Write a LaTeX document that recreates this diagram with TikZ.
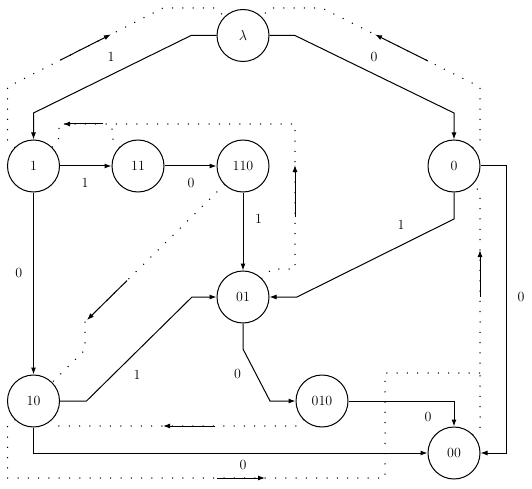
\documentclass[tikz,border=0pt]{standalone}
\usetikzlibrary{arrows.meta}
\begin{document}
\begin{tikzpicture}[x=1pt,y=-1pt,
  state/.style={circle,draw,line width=1pt,minimum size=52pt,inner sep=0pt,font=\fontsize{14}{16}\selectfont},
  edge/.style={line width=1pt,-{Latex[length=7pt,width=5pt]}},
  lbl/.style={font=\fontsize{14}{16}\selectfont,inner sep=0pt},
  link/.style={line width=1.5pt,line cap=round,dash pattern=on 0pt off 10.3pt},
  linkarrow/.style={line width=1pt,-{Latex[length=7pt,width=5pt]}}]
\useasboundingbox (0,0) rectangle (532,489);

% states
\node[state] (lam) at (243,35.5) {$\lambda$};
\node[state] (n1) at (33.5,166) {1};
\node[state] (n11) at (138,166) {11};
\node[state] (n110) at (243,166) {110};
\node[state] (n0) at (454,166) {0};
\node[state] (n01) at (243,297) {01};
\node[state] (n10) at (33.5,401) {10};
\node[state] (n010) at (322,401) {010};
\node[state] (n00) at (454,453) {00};

% transitions
\draw[edge] (lam.west) -- (191,35.5) -- (33.5,113) -- (n1.north);
\draw[edge] (lam.east) -- (295,35.5) -- (454,113) -- (n0.north);
\draw[edge] (n1) -- (n11);
\draw[edge] (n11) -- (n110);
\draw[edge] (n110) -- (n01);
\draw[edge] (n0.south) -- (454,219) -- (297,297) -- (n01.east);
\draw[edge] (n0.east) -- (506,166) -- (506,453) -- (n00.east);
\draw[edge] (n1) -- (n10);
\draw[edge] (n10.east) -- (86.5,401) -- (192,297) -- (n01.west);
\draw[edge] (n01.south) -- (243,349) -- (270,401) -- (n010.west);
\draw[edge] (n010.east) -- (454,401) -- (n00.north);
\draw[edge] (n10.south) -- (33.5,453) -- (n00.west);

% transition labels
\node[lbl] (t1) at (111,57) {1};
\node[lbl] (t2) at (374,57) {0};
\node[lbl] (t3) at (85,183) {1};
\node[lbl] (t4) at (191,183) {0};
\node[lbl] (t5) at (258.6,219) {1};
\node[lbl] (t6) at (401,225) {1};
\node[lbl] (t7) at (521,297) {0};
\node[lbl] (t8) at (18.7,273) {0};
\node[lbl] (t9) at (137,375) {1};
\node[lbl] (t10) at (237.5,374) {0};
\node[lbl] (t11) at (428,417) {0};
\node[lbl] (t12) at (243,465) {0};

% suffix links (dotted)
\draw[link] (n1.135) -- (7.5,140) -- (7.5,87) -- (163,8) -- (216,8) -- (lam.135);
\draw[linkarrow] (60,60.3) -- (111,34.4);
\draw[link] (n0.45) -- (480,140) -- (480,87) -- (322,8) -- (270,8) -- (lam.45);
\draw[linkarrow] (428,61) -- (375,34.5);

\draw[link] (n01.45) -- (272,269) -- (295,269) -- (295,124) -- (59,124) -- (59,138) -- (n1.45);
\draw[link] (n11.135) -- (112,138) -- (112,124);
\draw[linkarrow] (103,124) -- (63,124);
\draw[linkarrow] (295,217) -- (295,165);

\draw[link] (n110.225) -- (85,322) -- (85,350) -- (n10.45);
\draw[linkarrow] (127,280.6) -- (87,320);

\draw[link] (n010.225) -- (298,426) -- (57,426) -- (n10.-45);
\draw[linkarrow] (215,426) -- (163,426);

\draw[link] (n10.225) -- (7.5,426) -- (7.5,478) -- (385,478) -- (385,373) -- (480,373) -- (480,192) -- (n0.-45);
\draw[linkarrow] (217,478) -- (265,478);
\draw[linkarrow] (480,297) -- (480,250);
\draw[link] (n00.45) -- (480,428) -- (480,373);
\end{tikzpicture}
\end{document}
